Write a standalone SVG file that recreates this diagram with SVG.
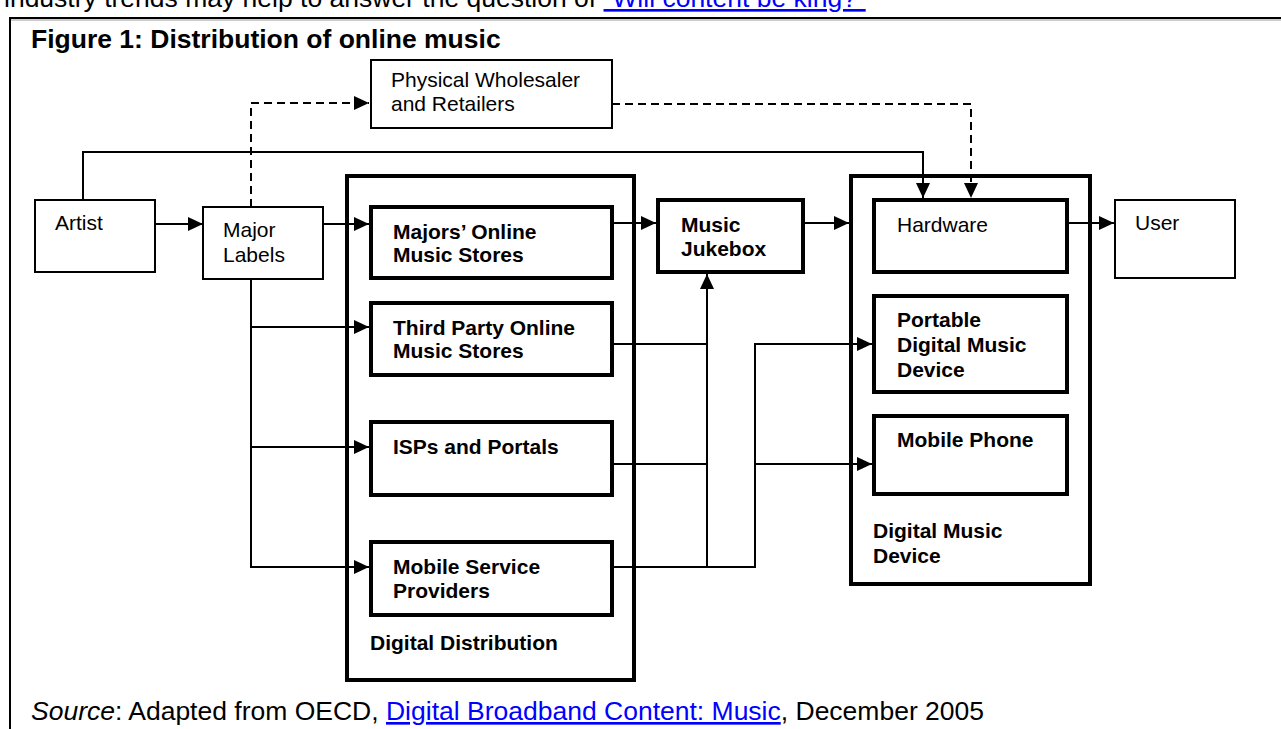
<svg xmlns="http://www.w3.org/2000/svg" width="1281" height="729" viewBox="0 0 1281 729">
<style>
text{font-family:"Liberation Sans",Arial,sans-serif;fill:#000}
.n{font-size:21px}
.b{font-size:21px;font-weight:bold}
.big{font-size:26.5px}
.thin{fill:#fff;stroke:#000;stroke-width:2}
.thick{fill:#fff;stroke:#000;stroke-width:4}
.outer{fill:#fff;stroke:#000;stroke-width:4}
.ln{fill:none;stroke:#000;stroke-width:2}
.dash{fill:none;stroke:#000;stroke-width:2;stroke-dasharray:8 5}
.lnk{fill:#0000ff;text-decoration:underline}
</style>
<defs>
<marker id="ah" markerUnits="userSpaceOnUse" markerWidth="15" markerHeight="14" refX="15" refY="7" orient="auto">
<path d="M0,0 L15,7 L0,14 z" fill="#000"/>
</marker>
</defs>
<rect width="1281" height="729" fill="#fff"/>
<text class="big" x="4" y="7">industry trends may help to answer the question of <tspan class="lnk">“Will content be king?”</tspan></text>
<g id="frame">
<line x1="9" y1="18" x2="1281" y2="18" stroke="#000" stroke-width="2"/>
<line x1="9" y1="20" x2="1281" y2="20" stroke="#999" stroke-width="1"/>
<line x1="10" y1="17" x2="10" y2="729" stroke="#000" stroke-width="2"/>
</g>
<text class="big" x="31" y="48" font-weight="bold">Figure 1: Distribution of online music</text>
<g id="digital-distribution">
<rect class="outer" x="347" y="176" width="287" height="504"/>
<text class="b" x="370" y="650">Digital Distribution</text>
</g>
<g id="digital-music-device">
<rect class="outer" x="851" y="176" width="239" height="408"/>
<text class="b" x="873" y="538">Digital Music</text>
<text class="b" x="873" y="563">Device</text>
</g>
<g id="artist">
<rect class="thin" x="35" y="200" width="120" height="72"/>
<text class="n" x="55" y="230">Artist</text>
</g>
<g id="major-labels">
<rect class="thin" x="203" y="207" width="120" height="72"/>
<text class="n" x="223" y="237">Major</text>
<text class="n" x="223" y="262">Labels</text>
</g>
<g id="physical">
<rect class="thin" x="371" y="60" width="241" height="68"/>
<text class="n" x="391" y="87">Physical Wholesaler</text>
<text class="n" x="391" y="111">and Retailers</text>
</g>
<g id="majors-online">
<rect class="thick" x="371" y="207" width="241" height="71"/>
<text class="b" x="393" y="239">Majors’ Online</text>
<text class="b" x="393" y="262">Music Stores</text>
</g>
<g id="third-party">
<rect class="thick" x="371" y="303" width="241" height="72"/>
<text class="b" x="393" y="335">Third Party Online</text>
<text class="b" x="393" y="358">Music Stores</text>
</g>
<g id="isps">
<rect class="thick" x="371" y="422" width="241" height="73"/>
<text class="b" x="393" y="454">ISPs and Portals</text>
</g>
<g id="mobile-service">
<rect class="thick" x="371" y="542" width="241" height="73"/>
<text class="b" x="393" y="574">Mobile Service</text>
<text class="b" x="393" y="598">Providers</text>
</g>
<g id="jukebox">
<rect class="thick" x="658" y="200" width="145" height="72"/>
<text class="b" x="681" y="232">Music</text>
<text class="b" x="681" y="256">Jukebox</text>
</g>
<g id="hardware">
<rect class="thick" x="874" y="200" width="193" height="72"/>
<text class="n" x="897" y="232">Hardware</text>
</g>
<g id="portable">
<rect class="thick" x="874" y="296" width="193" height="96"/>
<text class="b" x="897" y="327">Portable</text>
<text class="b" x="897" y="352">Digital Music</text>
<text class="b" x="897" y="377">Device</text>
</g>
<g id="mobile-phone">
<rect class="thick" x="874" y="416" width="193" height="78"/>
<text class="b" x="897" y="447">Mobile Phone</text>
</g>
<g id="user">
<rect class="thin" x="1115" y="200" width="120" height="78"/>
<text class="n" x="1135" y="230">User</text>
</g>
<g id="connectors">
<line class="ln" x1="155" y1="224" x2="203" y2="224" marker-end="url(#ah)"/>
<line class="ln" x1="323" y1="224" x2="369" y2="224" marker-end="url(#ah)"/>
<line class="ln" x1="612" y1="223" x2="656" y2="223" marker-end="url(#ah)"/>
<line class="ln" x1="803" y1="223" x2="849" y2="223" marker-end="url(#ah)"/>
<line class="ln" x1="1067" y1="223" x2="1114" y2="223" marker-end="url(#ah)"/>
<polyline class="ln" points="83,200 83,152 923,152 923,198" marker-end="url(#ah)"/>
<polyline class="dash" points="251,207 251,103 369,103" marker-end="url(#ah)"/>
<polyline class="dash" points="612,104 971,104 971,198" marker-end="url(#ah)"/>
<polyline class="ln" points="251,279 251,567 369,567" marker-end="url(#ah)"/>
<line class="ln" x1="251" y1="327" x2="369" y2="327" marker-end="url(#ah)"/>
<line class="ln" x1="251" y1="447" x2="369" y2="447" marker-end="url(#ah)"/>
<line class="ln" x1="612" y1="344" x2="707" y2="344"/>
<line class="ln" x1="612" y1="464" x2="707" y2="464"/>
<polyline class="ln" points="612,567 755,567 755,344 872,344" marker-end="url(#ah)"/>
<line class="ln" x1="755" y1="464" x2="872" y2="464" marker-end="url(#ah)"/>
<line class="ln" x1="707" y1="567" x2="707" y2="274" marker-end="url(#ah)"/>
</g>
<text class="big" x="31" y="720"><tspan font-style="italic">Source</tspan>: Adapted from OECD, <tspan class="lnk">Digital Broadband Content: Music</tspan>, December 2005</text>
</svg>
